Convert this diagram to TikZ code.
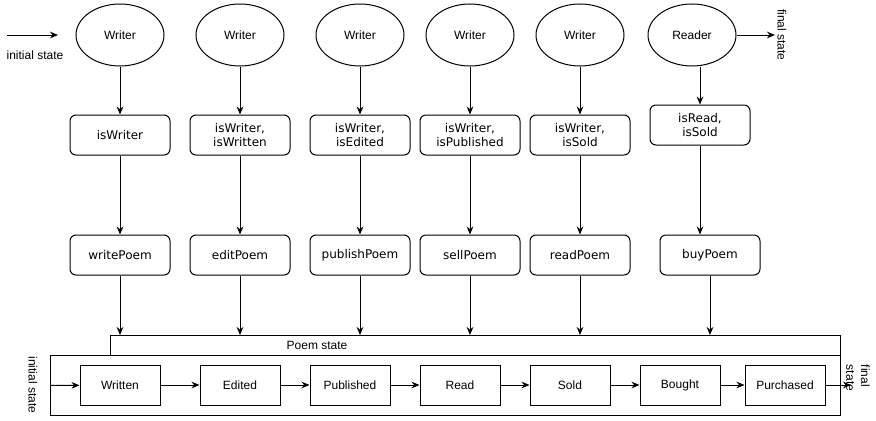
\documentclass[tikz,border=0pt]{standalone}
\usepackage{fontspec}
\setmainfont{Liberation Sans}
\newfontfamily\dejavu{DejaVu Sans}
\usetikzlibrary{shapes.geometric, arrows.meta, positioning}
\tikzstyle{actor} = [ellipse, draw=black, line width=0.75pt, minimum width=66pt,
minimum height=46.5pt, inner sep=0pt, font=\fontsize{9}{11}\selectfont]
\tikzstyle{cond} = [rectangle, rounded corners=4.5pt, minimum width=75pt, minimum
height=30pt, text centered, align=center, draw=black, line width=0.75pt, font=\dejavu\fontsize{9}{11.2}\selectfont]
\tikzstyle{state} = [rectangle, minimum width=60pt, minimum height=30pt, draw=black,
line width=0.75pt, font=\fontsize{9}{11}\selectfont]
\tikzstyle{frame} = [rectangle, draw=black, line width=0.75pt, inner sep=0pt, anchor=north west]
\tikzstyle{note} = [font=\fontsize{9}{11}\selectfont]
\tikzstyle{arrow} = [line width=0.75pt, -{Stealth[length=6pt,width=5pt]}]

\begin{document}
\begin{tikzpicture}[x=0.75pt, y=-0.75pt]
      \useasboundingbox (0,0) rectangle (876,421);

      \node (wr1) [actor] at (120,35) {Writer};
      \node (wr2) [actor] at (240,35) {Writer};
      \node (wr3) [actor] at (360,35) {Writer};
      \node (wr4) [actor] at (470,35) {Writer};
      \node (wr5) [actor] at (580,35) {Writer};
      \node (rdr) [actor] at (692,35) {Reader};

      \node (cond1) [cond, below=36pt of wr1] {isWriter};
      \node (cond2) [cond, below=36pt of wr2] {isWriter,\\isWritten};
      \node (cond3) [cond, below=36pt of wr3] {isWriter,\\isEdited};
      \node (cond4) [cond, below=36pt of wr4] {isWriter,\\isPublished};
      \node (cond5) [cond, below=36pt of wr5] {isWriter,\\isSold};
      \node (cond6) [cond] at (700,125) {isRead,\\isSold};

      \node (act1) [cond, below=59.25pt of cond1] {writePoem};
      \node (act2) [cond, below=59.25pt of cond2] {editPoem};
      \node (act3) [cond, below=59.25pt of cond3] {publishPoem};
      \node (act4) [cond, below=59.25pt of cond4] {sellPoem};
      \node (act5) [cond, below=59.25pt of cond5] {readPoem};
      \node (act6) [cond] at (710,255) {buyPoem};

      % poem state container
      \node (hdr) [frame, minimum width=547.5pt, minimum height=15pt] at (110,335) {};
      \node (body) [frame, minimum width=592.5pt, minimum height=45pt] at (50,355) {};
      \node (ttl) [note, anchor=west] at (282,345) {Poem state};

      \node (st1) [state] at (120,385) {Written};
      \node (st2) [state, right=29.25pt of st1] {Edited};
      \node (st3) [state, right=21.75pt of st2] {Published};
      \node (st4) [state, right=21.75pt of st3] {Read};
      \node (st5) [state, right=21.75pt of st4] {Sold};
      \node (st6) [state, right=21.75pt of st5] {Bought};
      \node (st7) [state, right=18pt of st6] {Purchased};

      \coordinate (ini0) at (7,35);
      \coordinate (ini1) at (58,35);
      \coordinate (fin1) at (775,35);
      \coordinate (fin2) at (851,385);
      \node (initxt) [note] at (35,55) {initial state};
      \node (fintxt) [note, rotate=-90] at (782,35) {final state};
      \node (initxt2) [note, rotate=-90] at (33,385) {initial state};
      \node (fintxt2) [note, rotate=-90, align=left] at (858,378) {final\\state};

      \draw [arrow] (ini0) -- (ini1);
      \draw [arrow] (rdr) -- (fin1);
      \draw [arrow] (wr1) -- (cond1);
      \draw [arrow] (wr2) -- (cond2);
      \draw [arrow] (wr3) -- (cond3);
      \draw [arrow] (wr4) -- (cond4);
      \draw [arrow] (wr5) -- (cond5);
      \draw [arrow] (cond6 |- rdr.south) -- (cond6);
      \draw [arrow] (cond1) -- (act1);
      \draw [arrow] (cond2) -- (act2);
      \draw [arrow] (cond3) -- (act3);
      \draw [arrow] (cond4) -- (act4);
      \draw [arrow] (cond5) -- (act5);
      \draw [arrow] (cond6) -- (cond6 |- act6.north);
      \draw [arrow] (act1) -- (act1 |- hdr.north);
      \draw [arrow] (act2) -- (act2 |- hdr.north);
      \draw [arrow] (act3) -- (act3 |- hdr.north);
      \draw [arrow] (act4) -- (act4 |- hdr.north);
      \draw [arrow] (act5) -- (act5 |- hdr.north);
      \draw [arrow] (act6) -- (act6 |- hdr.north);
      \draw [arrow] (body.west) -- (st1);
      \draw [arrow] (st1) -- (st2);
      \draw [arrow] (st2) -- (st3);
      \draw [arrow] (st3) -- (st4);
      \draw [arrow] (st4) -- (st5);
      \draw [arrow] (st5) -- (st6);
      \draw [arrow] (st6) -- (st7);
      \draw [arrow] (st7) -- (fin2);
\end{tikzpicture}
\end{document}
